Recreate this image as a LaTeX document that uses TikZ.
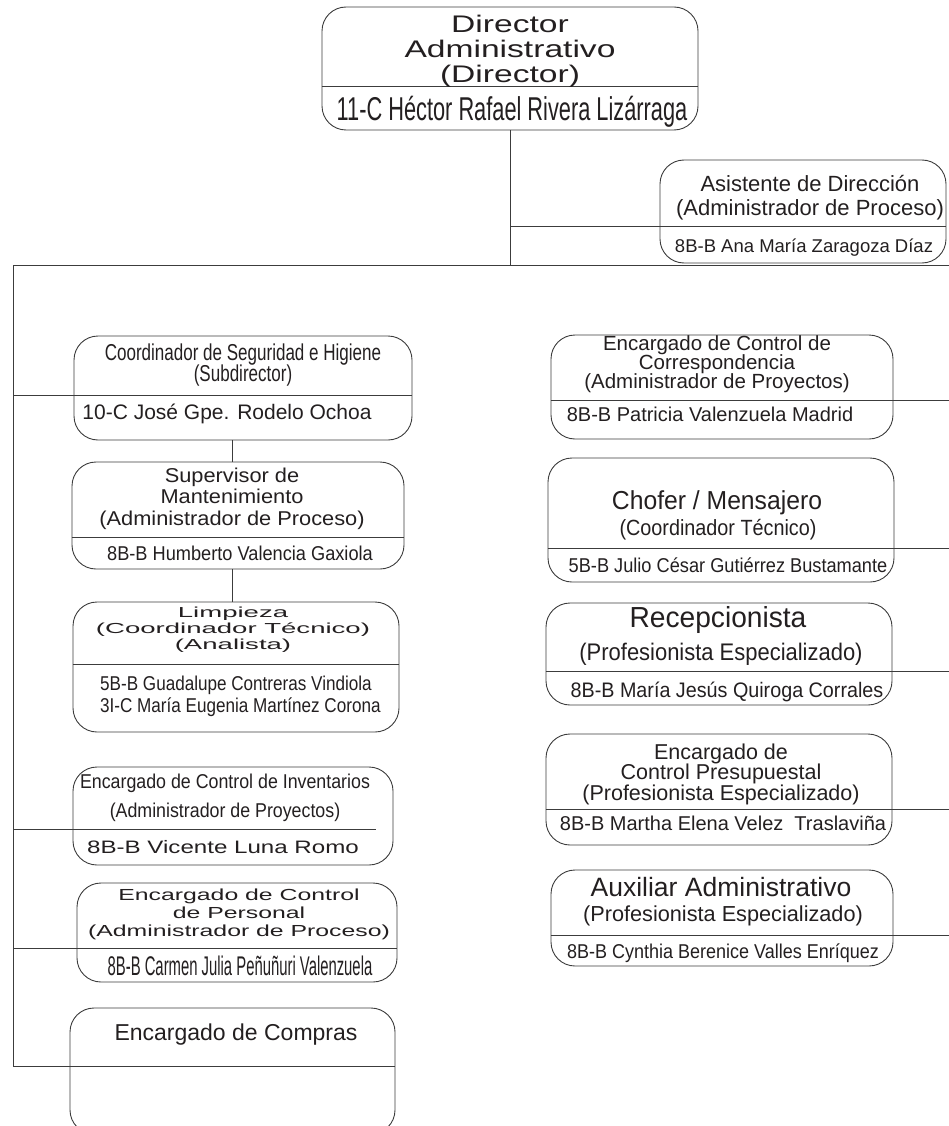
\documentclass[tikz,border=0pt]{standalone}
\usepackage{fontspec}
\setmainfont{Liberation Sans}
\usepackage{graphicx}
\usetikzlibrary{positioning}

\definecolor{ink}{HTML}{231F20}
\definecolor{wirec}{HTML}{3C3C3C}

% stacked lines, squeezed or stretched sideways
\newcommand\lns[3][\hfil]{\scalebox{#2}[1]{\vtop{\lineskiplimit=-\maxdimen\def\\{\cr}\halign{#1##\hfil\cr#3\crcr}}}}

\begin{document}
\begin{tikzpicture}[x=1pt, y=-1pt,
    box/.style={draw=wirec, line width=0.9pt, rounded corners=24pt, inner sep=0pt},
    txt/.style={anchor=base, inner sep=0pt, text=ink},
    wire/.style={draw=wirec, line width=1pt}]
\useasboundingbox (0,0) rectangle (949,1126);

% boxes
\node[box, minimum width=376, minimum height=123] (dir)  at (510,68.5) {};
\node[box, minimum width=286, minimum height=103] (asis) at (803,211.5) {};
\node[box, minimum width=338, minimum height=104] (segu) at (243,388) {};
\node[box, minimum width=332, minimum height=107] (mant) at (238,515.5) {};
\node[box, minimum width=326, minimum height=130] (limp) at (236,667) {};
\node[box, minimum width=320, minimum height=98]  (inve) at (233,816) {};
\node[box, minimum width=320, minimum height=99]  (pers) at (237,932.5) {};
\node[box, minimum width=325, minimum height=126] (comp) at (232.5,1071) {};
\node[box, minimum width=342, minimum height=104] (corr) at (722,387) {};
\node[box, minimum width=346, minimum height=124] (chof) at (721,520) {};
\node[box, minimum width=346, minimum height=102] (rece) at (719,654) {};
\node[box, minimum width=346, minimum height=111] (pres) at (719,789.5) {};
\node[box, minimum width=342, minimum height=96]  (auxi) at (722,918) {};

% heights of the dividers
\coordinate (ydir) at (0,87);    \coordinate (yasis) at (0,226);
\coordinate (ysegu) at (0,395);  \coordinate (ymant) at (0,537);
\coordinate (ylimp) at (0,664);  \coordinate (yinve) at (0,829);
\coordinate (ypers) at (0,948);
\coordinate (ycorr) at (0,400);  \coordinate (ychof) at (0,548);
\coordinate (yrece) at (0,671);  \coordinate (ypres) at (0,809);
\coordinate (yauxi) at (0,935);

\coordinate (busl) at (13,265);
\coordinate (busr) at (949,265);
\coordinate (trunkend) at (13,1066);
\coordinate (redge) at (949,0);
\coordinate (chain) at (232,0);
\coordinate (inveend) at (376,829);

% lines
\foreach \b in {dir,mant,limp}
  \draw[wire] (\b.west |- y\b) -- (\b.east |- y\b);
\draw[wire] (dir.south) -- (dir.south |- busl);
\draw[wire] (dir.south |- yasis) -- (asis.east |- yasis);
\draw[wire] (busl) -- (busr);
\draw[wire] (busl) -- (trunkend) -- (comp.east |- trunkend);
\draw[wire] (busl |- ysegu) -- (segu.east |- ysegu);
\draw[wire] (busl |- inveend) -- (inveend);
\draw[wire] (busl |- ypers) -- (pers.east |- ypers);
\draw[wire] (segu.south -| chain) -- (mant.north -| chain);
\draw[wire] (mant.south -| chain) -- (limp.north -| chain);
\foreach \b in {corr,chof,rece,pres,auxi}
  \draw[wire] (\b.west |- y\b) -- (redge |- y\b);

% texts, left column
\node[txt, font=\fontsize{24}{25}\selectfont] (dirt) at (510,33) {\lns{1.4}{Director\\Administrativo\\(Director)}};
\node[txt, font=\fontsize{33}{33}\selectfont] (dirn) at (512,121) {\lns{0.66}{11-C Héctor Rafael Rivera Lizárraga}};
\node[txt, font=\fontsize{22}{24}\selectfont] (asist) at (810,192) {\lns{1}{Asistente de Dirección\\(Administrador de Proceso)}};
\node[txt, font=\fontsize{18.5}{20}\selectfont] (asisn) at (804,252) {\lns{1}{8B-B Ana María Zaragoza Díaz}};
\node[txt, font=\fontsize{23}{21}\selectfont] (segut) at (243,360) {\lns{0.74}{Coordinador de Seguridad e Higiene\\(Subdirector)}};
\node[txt, font=\fontsize{21}{21}\selectfont] (ségun) at (227,419) {\lns{1}{10-C José Gpe. Rodelo Ochoa}};
\node[txt, font=\fontsize{20}{21.5}\selectfont] (mantt) at (232,482) {\lns{1.09}{Supervisor de\\Mantenimiento\\(Administrador de Proceso)}};
\node[txt, font=\fontsize{20}{20}\selectfont] (mantn) at (240,560) {\lns{0.91}{8B-B Humberto Valencia Gaxiola}};
\node[txt, font=\fontsize{14.5}{16}\selectfont] (limpt) at (233,617) {\lns{1.9}{Limpieza\\(Coordinador Técnico)\\(Analista)}};
\node[txt, anchor=base west, font=\fontsize{20}{22}\selectfont] (limpn) at (100,690) {\lns[]{0.855}{5B-B Guadalupe Contreras Vindiola\\3I-C María Eugenia Martínez Corona}};
\node[txt, font=\fontsize{20}{29}\selectfont] (invet) at (225,788) {\lns{0.89}{Encargado de Control de Inventarios\\(Administrador de Proyectos)}};
\node[txt, font=\fontsize{18}{18}\selectfont] (inven) at (223,853) {\lns{1.34}{8B-B Vicente Luna Romo}};
\node[txt, font=\fontsize{16}{18}\selectfont] (perst) at (239,900) {\lns{1.55}{Encargado de Control\\de Personal\\(Administrador de Proceso)}};
\node[txt, font=\fontsize{27}{27}\selectfont] (persn) at (240,975) {\lns{0.55}{8B-B Carmen Julia Peñuñuri Valenzuela}};
\node[txt, font=\fontsize{23}{23}\selectfont] (compt) at (236,1040) {\lns{1}{Encargado de Compras}};

% texts, right column
\node[txt, font=\fontsize{20.5}{19}\selectfont] (corrt) at (717,350) {\lns{1}{Encargado de Control de\\Correspondencia\\(Administrador de Proyectos)}};
\node[txt, font=\fontsize{20}{20}\selectfont] (corrn) at (710,421) {\lns{1}{8B-B Patricia Valenzuela Madrid}};
\node[txt, font=\fontsize{26}{26}\selectfont] (choft) at (717,509) {\lns{0.95}{Chofer / Mensajero}};
\node[txt, font=\fontsize{22}{22}\selectfont] (chofs) at (718,535) {\lns{0.9}{(Coordinador Técnico)}};
\node[txt, font=\fontsize{20}{20}\selectfont] (chofn) at (728,572) {\lns{0.91}{5B-B Julio César Gutiérrez Bustamante}};
\node[txt, font=\fontsize{29}{29}\selectfont] (recet) at (718,627) {\lns{0.97}{Recepcionista}};
\node[txt, font=\fontsize{24}{24}\selectfont] (reces) at (721,660) {\lns{0.915}{(Profesionista Especializado)}};
\node[txt, font=\fontsize{21}{21}\selectfont] (recen) at (727,697) {\lns{0.94}{8B-B María Jesús Quiroga Corrales}};
\node[txt, font=\fontsize{21.5}{20.5}\selectfont] (prest) at (721,759) {\lns{1}{Encargado de\\Control Presupuestal\\(Profesionista Especializado)}};
\node[txt, font=\fontsize{20}{20}\selectfont] (presn) at (723,830) {\lns{1}{8B-B Martha Elena Velez~ Traslaviña}};
\node[txt, font=\fontsize{26.5}{26.5}\selectfont] (auxit) at (721,896) {\lns{1}{Auxiliar Administrativo}};
\node[txt, font=\fontsize{21.7}{21.7}\selectfont] (auxis) at (723,921) {\lns{1}{(Profesionista Especializado)}};
\node[txt, font=\fontsize{20}{20}\selectfont] (auxin) at (723,958) {\lns{0.9}{8B-B Cynthia Berenice Valles Enríquez}};
\end{tikzpicture}
\end{document}
